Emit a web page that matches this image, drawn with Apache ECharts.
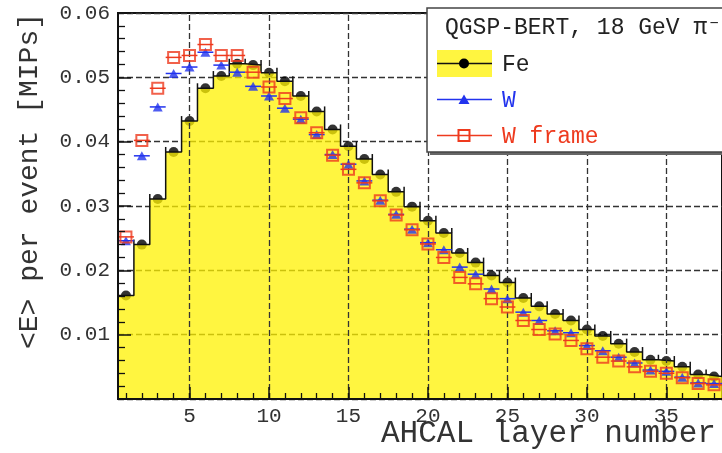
<!DOCTYPE html>
<html><head><meta charset="utf-8">
<script src="https://cdn.jsdelivr.net/npm/echarts@6/dist/echarts.min.js"></script>
<style>html,body{margin:0;padding:0;background:#fff}#c{width:722px;height:453px}</style>
</head><body><div id="c"></div>
<script>
// ---- data ----
const layers = [1,2,3,4,5,6,7,8,9,10,11,12,13,14,15,16,17,18,19,20,21,22,23,24,25,26,27,28,29,30,31,32,33,34,35,36,37,38];
const fe = [0.0161,0.0240,0.0311,0.0384,0.0432,0.0483,0.0502,0.0521,0.0519,0.0507,0.0494,0.0471,0.0447,0.0419,0.0393,0.0373,0.0349,0.0322,0.0299,0.0277,0.0258,0.0227,0.0212,0.0192,0.0181,0.0157,0.0144,0.0132,0.0122,0.0108,0.0098,0.0086,0.0073,0.0061,0.0059,0.0050,0.0038,0.0035];
const w = [0.0246,0.0378,0.0454,0.0506,0.0516,0.0539,0.0519,0.0508,0.0486,0.0471,0.0452,0.0435,0.0411,0.0380,0.0365,0.0339,0.0309,0.0287,0.0264,0.0243,0.0232,0.0205,0.0194,0.0171,0.0156,0.0135,0.0122,0.0106,0.0103,0.0083,0.0075,0.0065,0.0056,0.0045,0.0043,0.0034,0.0025,0.0024];
const wFrame = [0.0252,0.0402,0.0483,0.0531,0.0534,0.0551,0.0534,0.0534,0.0508,0.0485,0.0467,0.0437,0.0414,0.0379,0.0357,0.0336,0.0308,0.0286,0.0263,0.0241,0.0220,0.0189,0.0179,0.0156,0.0143,0.0122,0.0108,0.0101,0.0091,0.0078,0.0065,0.0059,0.0050,0.0043,0.0040,0.0033,0.0024,0.0022];
const xTicks = [5,10,15,20,25,30,35];
const yTicks = [0.01,0.02,0.03,0.04,0.05,0.06];
const xTitle = 'AHCAL layer number';
const yTitle = '<E> per event [MIPs]';
const legendHeader = 'QGSP-BERT, 18 GeV \u03c0\u207b';
const names = ['Fe','W','W frame'];

// ---- styles ----
const FONT = '"Liberation Mono", "DejaVu Sans Mono", monospace';
const YEL = '#fff200';
const BLUE = '#2233ee';
const RED = '#ee3a1e';

const chart = echarts.init(document.getElementById('c'), null, {renderer:'canvas'});

const pts = arr => layers.map((l,i)=>[l, arr[i]]);
const stepData = layers.map((l,i)=>[l-0.5, fe[i]]).concat([[layers[layers.length-1]+0.5, fe[fe.length-1]]]);
const spikeData = layers.slice(0,-1).map((l,i)=>[l+0.5, Math.max(fe[i], fe[i+1])]);

function hbar(color){
  return function(params, api){
    const x = api.value(0), y = api.value(1);
    const a = api.coord([x-0.5, y]), b = api.coord([x+0.5, y]);
    return {type:'line', shape:{x1:a[0],y1:a[1],x2:b[0],y2:b[1]}, style:{stroke:color, lineWidth:1.5}};
  };
}
function spike(params, api){
  const p = api.coord([api.value(0), api.value(1)]);
  return {type:'line', shape:{x1:p[0],y1:p[1],x2:p[0],y2:p[1]-5}, style:{stroke:'#111', lineWidth:1.5}};
}

const axisLineStyle = {color:'#111', width:2};
const option = {
  animation:false,
  backgroundColor:'#fff',
  grid:{left:118, top:13, width:610, height:386, show:true, borderColor:'#111', borderWidth:2, backgroundColor:'transparent'},
  xAxis:[
    {type:'value', min:0.5, max:38.5, position:'bottom', z:10,
     axisLine:{show:true, onZero:false, lineStyle:axisLineStyle},
     axisTick:{show:true, inside:true, length:12, customValues:xTicks, lineStyle:{color:'#111', width:1.5}},
     axisLabel:{show:true, customValues:xTicks, margin:7, fontSize:21, fontFamily:FONT, color:'#333'},
     splitLine:{show:false}},
    {type:'value', min:0.5, max:38.5, position:'bottom', offset:0, z:10,
     axisLine:{show:false},
     axisTick:{show:true, inside:true, length:6, customValues:layers, lineStyle:{color:'#111', width:1.3}},
     axisLabel:{show:false},
     splitLine:{show:false}}
  ],
  yAxis:[
    {type:'value', min:0, max:0.06, interval:0.01, position:'left', z:10,
     axisLine:{show:true, onZero:false, lineStyle:axisLineStyle},
     axisTick:{show:true, inside:true, length:13, lineStyle:{color:'#111', width:1.5}},
     minorTick:{show:true, splitNumber:5, length:7, lineStyle:{color:'#111', width:1.3}},
     axisLabel:{margin:8, fontSize:21, fontFamily:FONT, color:'#333',
       formatter:v=>{ const t = yTicks.find(q=>Math.abs(q-v)<1e-9); return t===undefined?'':t.toFixed(2);} },
     splitLine:{show:false}},
    {type:'value', min:0, max:0.06, interval:0.01, position:'left', z:0,
     axisLine:{show:false}, axisTick:{show:false}, axisLabel:{show:false},
     splitLine:{show:true, lineStyle:{color:'#333', width:1.3, type:[6,3]}}}
  ],
  series:[
    {type:'line', name:'vgrid', data:pts(fe), showSymbol:false, lineStyle:{width:0, opacity:0}, z:1, silent:true,
     markLine:{silent:true, symbol:'none', label:{show:false}, animation:false,
       lineStyle:{color:'#333', width:1.3, type:[6,3]},
       data:xTicks.map(v=>({xAxis:v}))}},
    {type:'scatter', name:names[0]+' points', data:pts(fe), symbol:'circle', symbolSize:10, itemStyle:{color:'#000'}, z:2},
    {type:'line', name:names[0], data:stepData, step:'end', showSymbol:false,
     lineStyle:{color:'#111', width:1.5}, areaStyle:{color:YEL, opacity:0.75}, z:3},
    {type:'custom', name:'spikes', data:spikeData, renderItem:spike, encode:{x:0,y:1}, z:4},
    {type:'custom', name:names[1]+' err', data:pts(w), renderItem:hbar(BLUE), encode:{x:0,y:1}, z:5},
    {type:'scatter', name:names[1], data:pts(w), symbol:'triangle', symbolSize:[10,9], itemStyle:{color:BLUE}, z:6},
    {type:'custom', name:names[2]+' err', data:pts(wFrame), renderItem:hbar(RED), encode:{x:0,y:1}, z:7},
    {type:'scatter', name:names[2], data:pts(wFrame), symbol:'rect', symbolSize:11,
     itemStyle:{color:'rgba(255,255,255,0)', borderColor:RED, borderWidth:2}, z:8}
  ],
  graphic:[
    {type:'text', x:30, y:181, rotation:Math.PI/2, z:20,
     style:{text:yTitle, font:'28px '+FONT, fill:'#333', align:'center', verticalAlign:'middle'}},
    {type:'text', x:381, y:434, z:20,
     style:{text:xTitle, font:'31px '+FONT, fill:'#333', align:'left', verticalAlign:'middle'}},
    {type:'rect', shape:{x:430, y:11, width:320, height:144}, style:{fill:'#666'}, z:50},
    {type:'rect', shape:{x:427, y:8, width:320, height:144}, style:{fill:'#fff', stroke:'#444', lineWidth:1.5}, z:51},
    {type:'text', x:445, y:28, z:52, style:{text:legendHeader, font:'23px '+FONT, fill:'#222', align:'left', verticalAlign:'middle'}},
    {type:'rect', shape:{x:437, y:50, width:55, height:27}, style:{fill:YEL, opacity:0.75}, z:52},
    {type:'line', shape:{x1:437, y1:63.5, x2:492, y2:63.5}, style:{stroke:'#111', lineWidth:1.5}, z:53},
    {type:'circle', shape:{cx:464, cy:63.5, r:5}, style:{fill:'#000'}, z:54},
    {type:'text', x:502, y:65, z:52, style:{text:names[0], font:'23px '+FONT, fill:'#222', align:'left', verticalAlign:'middle'}},
    {type:'line', shape:{x1:437, y1:99.5, x2:492, y2:99.5}, style:{stroke:BLUE, lineWidth:1.5}, z:53},
    {type:'polygon', shape:{points:[[464,94.5],[458.5,104],[469.5,104]]}, style:{fill:BLUE}, z:54},
    {type:'text', x:502, y:101, z:52, style:{text:names[1], font:'23px '+FONT, fill:BLUE, align:'left', verticalAlign:'middle'}},
    {type:'line', shape:{x1:437, y1:135.5, x2:492, y2:135.5}, style:{stroke:RED, lineWidth:1.5}, z:53},
    {type:'rect', shape:{x:458.5, y:130, width:11, height:11}, style:{fill:'none', stroke:RED, lineWidth:2}, z:54},
    {type:'text', x:502, y:137, z:52, style:{text:names[2], font:'23px '+FONT, fill:RED, align:'left', verticalAlign:'middle'}}
  ]
};
chart.setOption(option);
</script>
</body></html>
